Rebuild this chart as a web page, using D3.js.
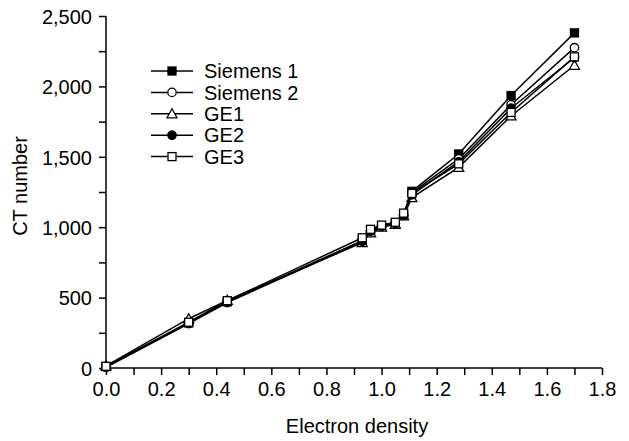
<!DOCTYPE html>
<html><head><meta charset="utf-8">
<script src="https://cdn.jsdelivr.net/npm/d3@7"></script>
<style>body{margin:0;background:#fff}svg{display:block}text{font-family:"Liberation Sans",Arial,sans-serif;fill:#000}</style>
</head><body><svg id="c" width="629" height="441"></svg>
<script>
const xValues = [0, 0.30, 0.44, 0.93, 0.96, 1.00, 1.05, 1.08, 1.11, 1.28, 1.47, 1.70];
const seriesNames = ["Siemens 1", "Siemens 2", "GE1", "GE2", "GE3"];
const siemens1 = [10, 320, 470, 905, 975, 1010, 1030, 1090, 1255, 1520, 1935, 2380];
const siemens2 = [5, 315, 465, 895, 965, 1010, 1025, 1085, 1245, 1485, 1870, 2275];
const ge1 = [15, 350, 480, 890, 960, 1000, 1020, 1080, 1210, 1425, 1790, 2150];
const ge2 = [8, 318, 470, 900, 970, 1005, 1025, 1085, 1230, 1465, 1845, 2205];
const ge3 = [12, 325, 478, 925, 985, 1015, 1035, 1100, 1240, 1450, 1815, 2210];
const xTicks = [0, 0.2, 0.4, 0.6, 0.8, 1.0, 1.2, 1.4, 1.6, 1.8];
const yTicks = [0, 500, 1000, 1500, 2000, 2500];

const svg = d3.select("#c");
const x = d3.scaleLinear().domain([0, 1.8]).range([106, 602]);
const y = d3.scaleLinear().domain([0, 2500]).range([368, 16]);
const FS = 20;

const series = [
  {name: seriesNames[0], vals: siemens1, shape: "square", fill: "#000"},
  {name: seriesNames[1], vals: siemens2, shape: "circle", fill: "#fff"},
  {name: seriesNames[2], vals: ge1, shape: "triangle", fill: "#fff"},
  {name: seriesNames[3], vals: ge2, shape: "circle", fill: "#000"},
  {name: seriesNames[4], vals: ge3, shape: "square", fill: "#fff"}
];

// axes
const xAxis = d3.axisBottom(x).tickValues(d3.range(0, 19).map(i => i / 10)).tickSize(7)
  .tickFormat(d => xTicks.some(t => Math.abs(t - d) < 1e-9) ? d3.format(".1f")(d) : "");
const gx = svg.append("g").attr("transform", "translate(0,368)").call(xAxis);
gx.select(".domain").attr("d", "M106,0H602").attr("stroke-width", 1.5);
gx.selectAll(".tick line").attr("stroke-width", 1.5);
gx.selectAll(".tick text").attr("font-size", FS).attr("dy", "0.9em");

const yAxis = d3.axisLeft(y).tickValues(d3.range(0, 11).map(i => i * 250)).tickSize(7)
  .tickFormat(d => yTicks.includes(d) ? d3.format(",")(d) : "");
const gy = svg.append("g").attr("transform", "translate(106,0)").call(yAxis);
gy.select(".domain").attr("d", "M0,368V16").attr("stroke-width", 1.5);
gy.selectAll(".tick line").attr("stroke-width", 1.5);
gy.selectAll(".tick text").attr("font-size", FS).attr("x", -14).attr("dy", "0.36em");

svg.selectAll(".domain, .tick line").attr("stroke", "#000");

// titles
svg.append("text").attr("x", 357).attr("y", 433).attr("text-anchor", "middle").attr("font-size", FS).text("Electron density");
svg.append("text").attr("transform", "translate(27,186) rotate(-90)").attr("text-anchor", "middle").attr("font-size", FS).text("CT number");

function drawMarker(g, shape, fill, cx, cy) {
  if (shape === "square") {
    g.append("rect").attr("x", cx - 4).attr("y", cy - 4).attr("width", 8).attr("height", 8)
      .attr("fill", fill).attr("stroke", "#000").attr("stroke-width", 1.3);
  } else if (shape === "circle") {
    g.append("circle").attr("cx", cx).attr("cy", cy).attr("r", 4.2)
      .attr("fill", fill).attr("stroke", "#000").attr("stroke-width", 1.3);
  } else {
    g.append("path").attr("d", `M${cx},${cy - 5}L${cx + 5},${cy + 4}L${cx - 5},${cy + 4}Z`)
      .attr("fill", fill).attr("stroke", "#000").attr("stroke-width", 1.3);
  }
}

const line = d3.line().x(d => x(d[0])).y(d => y(d[1]));
series.forEach(s => {
  const pts = xValues.map((xv, i) => [xv, s.vals[i]]);
  const g = svg.append("g");
  g.append("path").attr("d", line(pts)).attr("fill", "none").attr("stroke", "#000").attr("stroke-width", 1.5);
  pts.forEach(p => drawMarker(g, s.shape, s.fill, x(p[0]), y(p[1])));
});

// legend
const leg = svg.append("g");
series.forEach((s, i) => {
  const yy = 71 + i * 21.4;
  leg.append("line").attr("x1", 151).attr("x2", 193).attr("y1", yy).attr("y2", yy).attr("stroke", "#000").attr("stroke-width", 1.5);
  drawMarker(leg, s.shape, s.fill, 172, yy);
  leg.append("text").attr("x", 204).attr("y", yy).attr("dy", "0.36em").attr("font-size", FS).text(s.name);
});
</script></body></html>
